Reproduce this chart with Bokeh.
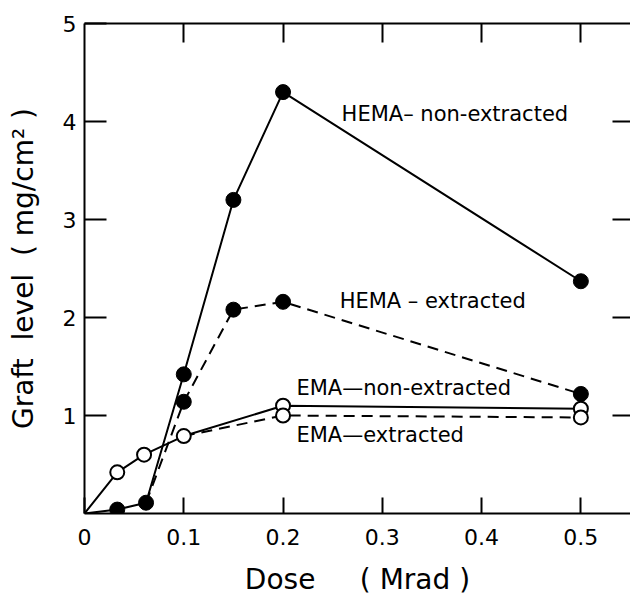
from bokeh.plotting import figure
from bokeh.models import (Range1d, LinearAxis, FixedTicker, NumeralTickFormatter, Label)
from bokeh.embed import file_html
from bokeh.resources import INLINE

# ---- data ----
dose_hema = [0, 0.033, 0.062, 0.1, 0.15, 0.2, 0.5]
hema_non_extracted = [0, 0.04, 0.11, 1.42, 3.20, 4.30, 2.37]
dose_hema_ext = [0.062, 0.1, 0.15, 0.2, 0.5]
hema_extracted = [0.11, 1.14, 2.08, 2.16, 1.22]

dose_ema = [0, 0.033, 0.06, 0.1, 0.2, 0.5]
ema_non_extracted = [0, 0.42, 0.60, 0.79, 1.10, 1.07]
dose_ema_ext = [0.1, 0.2, 0.5]
ema_extracted = [0.79, 1.00, 0.98]

x_ticks = [0, 0.1, 0.2, 0.3, 0.4, 0.5]
y_ticks = [1, 2, 3, 4, 5]

series_labels = ["HEMA\u2013 non-extracted", "HEMA \u2013 extracted", "EMA\u2014non-extracted", "EMA\u2014extracted"]
label_x = [0.259, 0.257, 0.2135, 0.2135]
label_y = [4.08, 2.17, 1.28, 0.80]

FONT = "DejaVu Sans"
NB = "\u00a0"

p = figure(width=630, height=598, output_backend="svg", toolbar_location=None,
           x_range=Range1d(0, 0.55), y_range=Range1d(0, 5),
           min_border_left=84, min_border_right=0, min_border_top=23, min_border_bottom=85,
           x_axis_label="Dose" + NB * 5 + "(" + NB + "Mrad" + NB + ")",
           y_axis_label="Graft" + NB * 2 + "level" + NB * 2 + "(" + NB + "mg/cm\u00b2" + NB + ")")
p.outline_line_color = None
p.grid.visible = False
p.background_fill_color = "white"
p.border_fill_color = "white"

# bottom axis
xa = p.xaxis[0]
xa.ticker = FixedTicker(ticks=x_ticks)
xa.formatter = NumeralTickFormatter(format="0.[0]")
xa.major_tick_in = 16
xa.major_tick_out = 0
xa.minor_tick_line_color = None
xa.axis_line_width = 2
xa.major_tick_line_width = 2
xa.major_label_standoff = 15
xa.major_label_text_font = FONT
xa.major_label_text_font_size = "22px"
xa.major_label_text_color = "black"
xa.axis_label_standoff = 15
xa.axis_label_text_font = FONT
xa.axis_label_text_font_size = "28px"
xa.axis_label_text_font_style = "normal"
xa.axis_label_text_color = "black"

# left axis
ya = p.yaxis[0]
ya.ticker = FixedTicker(ticks=y_ticks)
ya.formatter = NumeralTickFormatter(format="0")
ya.major_tick_in = 22
ya.major_tick_out = 0
ya.minor_tick_line_color = None
ya.axis_line_width = 2
ya.major_tick_line_width = 2
ya.major_label_standoff = 8
ya.major_label_text_font = FONT
ya.major_label_text_font_size = "22px"
ya.major_label_text_color = "black"
ya.axis_label_standoff = 20
ya.axis_label_text_font = FONT
ya.axis_label_text_font_size = "28px"
ya.axis_label_text_font_style = "normal"
ya.axis_label_text_color = "black"

# top axis (ticks only)
top = LinearAxis(ticker=FixedTicker(ticks=x_ticks[1:]),
                 major_label_overrides={t: "" for t in x_ticks[1:]},
                 major_tick_in=19, major_tick_out=0, minor_tick_line_color=None,
                 axis_line_width=2, major_tick_line_width=2, major_label_standoff=0)
p.add_layout(top, "above")

# right axis (ticks only)
right = LinearAxis(ticker=FixedTicker(ticks=[1, 2, 3, 4]),
                   major_label_overrides={t: "" for t in [1, 2, 3, 4]},
                   major_tick_in=18, major_tick_out=0, minor_tick_line_color=None,
                   axis_line_color=None, major_tick_line_width=2, major_label_standoff=0)
p.add_layout(right, "right")

LW = 2
# lines
p.line(dose_hema, hema_non_extracted, line_color="black", line_width=LW)
p.line(dose_hema_ext, hema_extracted, line_color="black", line_width=LW, line_dash="11 7")
p.line(dose_ema, ema_non_extracted, line_color="black", line_width=LW)
p.line(dose_ema_ext, ema_extracted, line_color="black", line_width=LW, line_dash="11 7")

# markers
p.scatter(dose_hema[1:], hema_non_extracted[1:], size=15, fill_color="black", line_color="black")
p.scatter(dose_hema_ext[1:], hema_extracted[1:], size=15, fill_color="black", line_color="black")
p.scatter(dose_ema[1:], ema_non_extracted[1:], size=14, fill_color="white", line_color="black", line_width=2)
p.scatter(dose_ema_ext[1:], ema_extracted[1:], size=14, fill_color="white", line_color="black", line_width=2)

for t, lx, ly in zip(series_labels, label_x, label_y):
    p.add_layout(Label(x=lx, y=ly, text=t, text_font=FONT, text_font_size="21px",
                       text_baseline="middle", text_align="left", text_color="black"))

open("out.html", "w").write(file_html(p, INLINE))
